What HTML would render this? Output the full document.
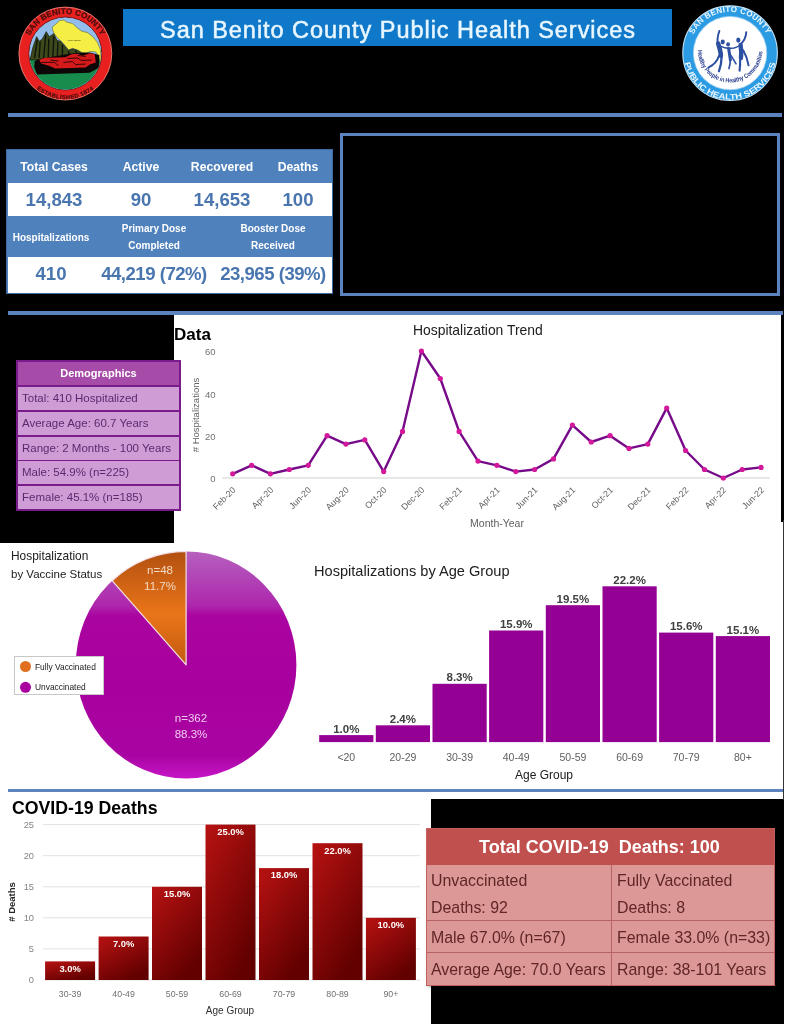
<!DOCTYPE html>
<html lang="en"><head><meta charset="utf-8"><title>San Benito County Public Health Services</title>
<style>
html,body{margin:0;padding:0;}
body{width:791px;height:1024px;position:relative;overflow:hidden;background:#fff;font-family:"Liberation Sans",sans-serif;}
.abs{position:absolute;}
.blk{position:absolute;background:#000;}
.bl{position:absolute;background:#5b83bd;}
.t{position:absolute;white-space:nowrap;line-height:1;}
svg{position:absolute;left:0;top:0;}
svg text{font-family:"Liberation Sans",sans-serif;}
.st{position:absolute;left:6px;top:149px;width:327px;height:145px;background:#4f81bd;border:1px solid #3f6aa5;box-sizing:border-box;}
.st .w{position:absolute;left:1px;right:0;background:#fff;}
.st .h{position:absolute;color:#fff;font-weight:bold;text-align:center;white-space:nowrap;line-height:1;transform:translateX(-50%);}
.st .v{position:absolute;color:#4a76b0;font-weight:bold;text-align:center;white-space:nowrap;line-height:1;transform:translateX(-50%);}
.st .v2{position:absolute;color:#4a76b0;font-weight:bold;text-align:center;white-space:nowrap;line-height:1;transform:translateX(-50%);letter-spacing:-0.5px;}
.dm{position:absolute;left:16px;top:360px;width:165px;height:151px;background:#7a1b8b;}
.dm div{position:absolute;left:2px;width:161px;box-sizing:border-box;color:#5b2a6e;font-size:11.5px;line-height:1;white-space:nowrap;}
.dm .hd{background:#a64ca8;color:#fff;font-weight:bold;text-align:center;font-size:11px;}
.dm .r{background:#cf9cd6;padding-left:4px;}
.rt{position:absolute;left:427px;top:829px;width:347px;height:156px;background:#db9897;box-shadow:0 0 0 1px #c4605e, 1px 2px 3px rgba(0,0,0,0.35);}
.rt .hd{position:absolute;left:0;top:0;width:347px;height:36px;background:#c0504d;color:#fff;font-weight:bold;}
.rt .c{position:absolute;color:#602624;font-size:15.9px;white-space:nowrap;line-height:1;}
.rt .ln{position:absolute;background:#b86462;}
</style></head><body>

<div class="blk" style="left:0;top:0;width:784px;height:315px"></div>
<div class="blk" style="left:0;top:315px;width:174px;height:228px"></div>
<div class="blk" style="left:431px;top:799px;width:353px;height:225px"></div>
<div class="blk" style="left:781px;top:315px;width:3px;height:207px"></div>
<div class="abs" style="left:783px;top:520px;width:1px;height:280px;background:#333"></div>
<div class="bl" style="left:8px;top:113px;width:774px;height:4px"></div>
<div class="bl" style="left:8px;top:311px;width:775px;height:4px"></div>
<div class="bl" style="left:8px;top:789px;width:775px;height:3px"></div>
<div class="abs" style="left:123px;top:9px;width:549px;height:37px;background:#0f78c8"></div>
<div class="t" id="title" style="left:160px;top:18.5px;font-size:23.5px;color:#e8f6ff;letter-spacing:0.96px;-webkit-text-stroke:0.5px #e8f6ff">San Benito County Public Health Services</div>
<div class="abs" style="left:340px;top:133px;width:440px;height:163px;box-sizing:border-box;border:3px solid #5b83bd"></div>
<div class="st">
<div class="w" style="top:33px;height:33px"></div>
<div class="w" style="top:107px;height:36px"></div>
<div class="h" style="left:47px;top:11px;font-size:12.2px">Total Cases</div>
<div class="h" style="left:134px;top:11px;font-size:12.2px">Active</div>
<div class="h" style="left:215px;top:11px;font-size:12.2px">Recovered</div>
<div class="h" style="left:291px;top:11px;font-size:12.2px">Deaths</div>
<div class="v" style="left:47px;top:41px;font-size:18.6px">14,843</div>
<div class="v" style="left:134px;top:41px;font-size:18.6px">90</div>
<div class="v" style="left:215px;top:41px;font-size:18.6px">14,653</div>
<div class="v" style="left:291px;top:41px;font-size:18.6px">100</div>
<div class="h" style="left:44px;top:83px;font-size:10px">Hospitalizations</div>
<div class="h" style="left:147px;top:74px;font-size:10px">Primary Dose</div>
<div class="h" style="left:147px;top:91px;font-size:10px">Completed</div>
<div class="h" style="left:266px;top:74px;font-size:10px">Booster Dose</div>
<div class="h" style="left:266px;top:91px;font-size:10px">Received</div>
<div class="v" style="left:44px;top:115px;font-size:18.6px">410</div>
<div class="v2" style="left:147px;top:115px;font-size:18.6px">44,219 (72%)</div>
<div class="v2" style="left:266px;top:115px;font-size:18.6px">23,965 (39%)</div>
</div>
<div class="t" style="left:174px;top:325.5px;font-size:17px;font-weight:bold;color:#000">Data</div>
<div class="dm">
<div class="hd" style="top:2px;height:23px;padding-top:6px">Demographics</div>
<div class="r" style="top:27px;height:23px;padding-top:6px">Total: 410 Hospitalized</div>
<div class="r" style="top:51.5px;height:23px;padding-top:6px">Average Age: 60.7 Years</div>
<div class="r" style="top:76.5px;height:23px;padding-top:6px">Range: 2 Months - 100 Years</div>
<div class="r" style="top:101px;height:23px;padding-top:6px">Male: 54.9% (n=225)</div>
<div class="r" style="top:125.5px;height:23px;padding-top:6px">Female: 45.1% (n=185)</div>
</div>
<svg width="791" height="1024" viewBox="0 0 791 1024">
<defs>
<linearGradient id="gp" x1="0" y1="0" x2="0" y2="1"><stop offset="0" stop-color="#b660be"/><stop offset="0.12" stop-color="#b144b6"/><stop offset="0.24" stop-color="#ae26ac"/><stop offset="0.285" stop-color="#aa04a0"/><stop offset="0.6" stop-color="#a8009e"/><stop offset="0.9" stop-color="#a904a2"/><stop offset="1" stop-color="#c616c6"/></linearGradient>
<linearGradient id="go" x1="0" y1="0" x2="0" y2="1"><stop offset="0" stop-color="#b25010"/><stop offset="0.55" stop-color="#ea7519"/><stop offset="1" stop-color="#c25a10"/></linearGradient>
<linearGradient id="gr" x1="0" y1="0" x2="0.6" y2="1"><stop offset="0" stop-color="#b81212"/><stop offset="1" stop-color="#620000"/></linearGradient>
</defs>
<line x1="222" y1="478" x2="770" y2="478" stroke="#d0d0d0" stroke-width="1"/>
<polyline fill="none" stroke="#760a88" stroke-width="2.4" stroke-linejoin="round" points="232.7,473.8 251.6,465.3 270.4,473.8 289.3,469.5 308.2,465.3 327.1,435.7 345.9,444.1 364.8,439.9 383.7,471.6 402.5,431.4 421.4,351.0 440.3,378.5 459.1,431.4 478.0,461.1 496.9,465.3 515.8,471.6 534.6,469.5 553.5,458.9 572.4,425.1 591.2,442.0 610.1,435.7 629.0,448.4 647.8,444.1 666.7,408.1 685.6,450.5 704.5,469.5 723.3,478.0 742.2,469.5 761.1,467.4"/>
<circle cx="232.7" cy="473.8" r="2.6" fill="#d4189c"/>
<circle cx="251.6" cy="465.3" r="2.6" fill="#d4189c"/>
<circle cx="270.4" cy="473.8" r="2.6" fill="#d4189c"/>
<circle cx="289.3" cy="469.5" r="2.6" fill="#d4189c"/>
<circle cx="308.2" cy="465.3" r="2.6" fill="#d4189c"/>
<circle cx="327.1" cy="435.7" r="2.6" fill="#d4189c"/>
<circle cx="345.9" cy="444.1" r="2.6" fill="#d4189c"/>
<circle cx="364.8" cy="439.9" r="2.6" fill="#d4189c"/>
<circle cx="383.7" cy="471.6" r="2.6" fill="#d4189c"/>
<circle cx="402.5" cy="431.4" r="2.6" fill="#d4189c"/>
<circle cx="421.4" cy="351.0" r="2.6" fill="#d4189c"/>
<circle cx="440.3" cy="378.5" r="2.6" fill="#d4189c"/>
<circle cx="459.1" cy="431.4" r="2.6" fill="#d4189c"/>
<circle cx="478.0" cy="461.1" r="2.6" fill="#d4189c"/>
<circle cx="496.9" cy="465.3" r="2.6" fill="#d4189c"/>
<circle cx="515.8" cy="471.6" r="2.6" fill="#d4189c"/>
<circle cx="534.6" cy="469.5" r="2.6" fill="#d4189c"/>
<circle cx="553.5" cy="458.9" r="2.6" fill="#d4189c"/>
<circle cx="572.4" cy="425.1" r="2.6" fill="#d4189c"/>
<circle cx="591.2" cy="442.0" r="2.6" fill="#d4189c"/>
<circle cx="610.1" cy="435.7" r="2.6" fill="#d4189c"/>
<circle cx="629.0" cy="448.4" r="2.6" fill="#d4189c"/>
<circle cx="647.8" cy="444.1" r="2.6" fill="#d4189c"/>
<circle cx="666.7" cy="408.1" r="2.6" fill="#d4189c"/>
<circle cx="685.6" cy="450.5" r="2.6" fill="#d4189c"/>
<circle cx="704.5" cy="469.5" r="2.6" fill="#d4189c"/>
<circle cx="723.3" cy="478.0" r="2.6" fill="#d4189c"/>
<circle cx="742.2" cy="469.5" r="2.6" fill="#d4189c"/>
<circle cx="761.1" cy="467.4" r="2.6" fill="#d4189c"/>
<text x="215.5" y="354.5" font-size="9.5" fill="#707070" text-anchor="end">60</text>
<text x="215.5" y="397.5" font-size="9.5" fill="#707070" text-anchor="end">40</text>
<text x="215.5" y="439.5" font-size="9.5" fill="#707070" text-anchor="end">20</text>
<text x="215.5" y="481.5" font-size="9.5" fill="#707070" text-anchor="end">0</text>
<text transform="translate(236.2,490.5) rotate(-45)" font-size="8.8" fill="#606060" text-anchor="end">Feb-20</text>
<text transform="translate(273.9,490.5) rotate(-45)" font-size="8.8" fill="#606060" text-anchor="end">Apr-20</text>
<text transform="translate(311.7,490.5) rotate(-45)" font-size="8.8" fill="#606060" text-anchor="end">Jun-20</text>
<text transform="translate(349.4,490.5) rotate(-45)" font-size="8.8" fill="#606060" text-anchor="end">Aug-20</text>
<text transform="translate(387.2,490.5) rotate(-45)" font-size="8.8" fill="#606060" text-anchor="end">Oct-20</text>
<text transform="translate(424.9,490.5) rotate(-45)" font-size="8.8" fill="#606060" text-anchor="end">Dec-20</text>
<text transform="translate(462.6,490.5) rotate(-45)" font-size="8.8" fill="#606060" text-anchor="end">Feb-21</text>
<text transform="translate(500.4,490.5) rotate(-45)" font-size="8.8" fill="#606060" text-anchor="end">Apr-21</text>
<text transform="translate(538.1,490.5) rotate(-45)" font-size="8.8" fill="#606060" text-anchor="end">Jun-21</text>
<text transform="translate(575.9,490.5) rotate(-45)" font-size="8.8" fill="#606060" text-anchor="end">Aug-21</text>
<text transform="translate(613.6,490.5) rotate(-45)" font-size="8.8" fill="#606060" text-anchor="end">Oct-21</text>
<text transform="translate(651.3,490.5) rotate(-45)" font-size="8.8" fill="#606060" text-anchor="end">Dec-21</text>
<text transform="translate(689.1,490.5) rotate(-45)" font-size="8.8" fill="#606060" text-anchor="end">Feb-22</text>
<text transform="translate(726.8,490.5) rotate(-45)" font-size="8.8" fill="#606060" text-anchor="end">Apr-22</text>
<text transform="translate(764.6,490.5) rotate(-45)" font-size="8.8" fill="#606060" text-anchor="end">Jun-22</text>
<text x="497" y="527" font-size="10.5" fill="#606060" text-anchor="middle">Month-Year</text>
<text transform="translate(199,415) rotate(-90)" font-size="9.5" fill="#606060" text-anchor="middle"># Hospitalizations</text>
<text x="413" y="335" font-size="13.9" fill="#202020">Hospitalization Trend</text>
<ellipse cx="186.1" cy="664.9" rx="110.3" ry="113.5" fill="url(#gp)"/>
<path d="M186.1,664.9 L186.1,551.4 A110.3,113.5 0 0 0 112.1,580.7 Z" fill="url(#go)" stroke="#f4e0e8" stroke-width="1.2" stroke-linejoin="round"/>
<text x="160" y="574" font-size="11.5" fill="#f3d9c2" text-anchor="middle">n=48</text>
<text x="160" y="590" font-size="11.5" fill="#f3d9c2" text-anchor="middle">11.7%</text>
<text x="191" y="722" font-size="11.5" fill="#efc8ee" text-anchor="middle">n=362</text>
<text x="191" y="737.5" font-size="11.5" fill="#efc8ee" text-anchor="middle">88.3%</text>
<text x="11" y="560" font-size="11.9" fill="#202020">Hospitalization</text>
<text x="11" y="578" font-size="11.5" fill="#202020">by Vaccine Status</text>
<rect x="14.5" y="656.5" width="89" height="38" fill="#fff" stroke="#c8c8c8" stroke-width="1"/>
<circle cx="25.5" cy="666.5" r="5.5" fill="#e07020"/>
<circle cx="25.5" cy="687.3" r="5.5" fill="#a8009e"/>
<text x="35" y="669.5" font-size="8.4" fill="#202020">Fully Vaccinated</text>
<text x="35" y="690.3" font-size="8.4" fill="#202020">Unvaccinated</text>
<rect x="319.2" y="735.1" width="54.2" height="7.0" fill="#940093"/>
<text x="346.3" y="732.6" font-size="11.5" font-weight="bold" fill="#404040" text-anchor="middle">1.0%</text>
<text x="346.3" y="761" font-size="10.5" fill="#606060" text-anchor="middle">&lt;20</text>
<rect x="375.8" y="725.3" width="54.2" height="16.8" fill="#940093"/>
<text x="402.9" y="722.8" font-size="11.5" font-weight="bold" fill="#404040" text-anchor="middle">2.4%</text>
<text x="402.9" y="761" font-size="10.5" fill="#606060" text-anchor="middle">20-29</text>
<rect x="432.5" y="683.8" width="54.2" height="58.3" fill="#940093"/>
<text x="459.6" y="681.3" font-size="11.5" font-weight="bold" fill="#404040" text-anchor="middle">8.3%</text>
<text x="459.6" y="761" font-size="10.5" fill="#606060" text-anchor="middle">30-39</text>
<rect x="489.1" y="630.5" width="54.2" height="111.6" fill="#940093"/>
<text x="516.2" y="628.0" font-size="11.5" font-weight="bold" fill="#404040" text-anchor="middle">15.9%</text>
<text x="516.2" y="761" font-size="10.5" fill="#606060" text-anchor="middle">40-49</text>
<rect x="545.8" y="605.2" width="54.2" height="136.9" fill="#940093"/>
<text x="572.9" y="602.7" font-size="11.5" font-weight="bold" fill="#404040" text-anchor="middle">19.5%</text>
<text x="572.9" y="761" font-size="10.5" fill="#606060" text-anchor="middle">50-59</text>
<rect x="602.5" y="586.3" width="54.2" height="155.8" fill="#940093"/>
<text x="629.6" y="583.8" font-size="11.5" font-weight="bold" fill="#404040" text-anchor="middle">22.2%</text>
<text x="629.6" y="761" font-size="10.5" fill="#606060" text-anchor="middle">60-69</text>
<rect x="659.1" y="632.6" width="54.2" height="109.5" fill="#940093"/>
<text x="686.2" y="630.1" font-size="11.5" font-weight="bold" fill="#404040" text-anchor="middle">15.6%</text>
<text x="686.2" y="761" font-size="10.5" fill="#606060" text-anchor="middle">70-79</text>
<rect x="715.8" y="636.1" width="54.2" height="106.0" fill="#940093"/>
<text x="742.9" y="633.6" font-size="11.5" font-weight="bold" fill="#404040" text-anchor="middle">15.1%</text>
<text x="742.9" y="761" font-size="10.5" fill="#606060" text-anchor="middle">80+</text>
<text x="544" y="779" font-size="12" fill="#202020" text-anchor="middle">Age Group</text>
<text x="314" y="576" font-size="14.6" fill="#202020">Hospitalizations by Age Group</text>
<line x1="43" y1="980.0" x2="420" y2="980.0" stroke="#e2e2e2" stroke-width="1"/>
<text x="34" y="983.3" font-size="9.3" fill="#858585" text-anchor="end">0</text>
<line x1="43" y1="948.9" x2="420" y2="948.9" stroke="#e2e2e2" stroke-width="1"/>
<text x="34" y="952.2" font-size="9.3" fill="#858585" text-anchor="end">5</text>
<line x1="43" y1="917.8" x2="420" y2="917.8" stroke="#e2e2e2" stroke-width="1"/>
<text x="34" y="921.1" font-size="9.3" fill="#858585" text-anchor="end">10</text>
<line x1="43" y1="886.8" x2="420" y2="886.8" stroke="#e2e2e2" stroke-width="1"/>
<text x="34" y="890.1" font-size="9.3" fill="#858585" text-anchor="end">15</text>
<line x1="43" y1="855.7" x2="420" y2="855.7" stroke="#e2e2e2" stroke-width="1"/>
<text x="34" y="859.0" font-size="9.3" fill="#858585" text-anchor="end">20</text>
<line x1="43" y1="824.6" x2="420" y2="824.6" stroke="#e2e2e2" stroke-width="1"/>
<text x="34" y="827.9" font-size="9.3" fill="#858585" text-anchor="end">25</text>
<rect x="45.1" y="961.4" width="50" height="18.6" fill="url(#gr)"/>
<text x="70.1" y="971.7" font-size="9.4" font-weight="bold" fill="#fff" text-anchor="middle">3.0%</text>
<text x="70.1" y="996.7" font-size="8.8" fill="#707070" text-anchor="middle">30-39</text>
<rect x="98.6" y="936.5" width="50" height="43.5" fill="url(#gr)"/>
<text x="123.6" y="946.8" font-size="9.4" font-weight="bold" fill="#fff" text-anchor="middle">7.0%</text>
<text x="123.6" y="996.7" font-size="8.8" fill="#707070" text-anchor="middle">40-49</text>
<rect x="152.0" y="886.8" width="50" height="93.2" fill="url(#gr)"/>
<text x="177.0" y="897.1" font-size="9.4" font-weight="bold" fill="#fff" text-anchor="middle">15.0%</text>
<text x="177.0" y="996.7" font-size="8.8" fill="#707070" text-anchor="middle">50-59</text>
<rect x="205.5" y="824.6" width="50" height="155.4" fill="url(#gr)"/>
<text x="230.5" y="834.9" font-size="9.4" font-weight="bold" fill="#fff" text-anchor="middle">25.0%</text>
<text x="230.5" y="996.7" font-size="8.8" fill="#707070" text-anchor="middle">60-69</text>
<rect x="259.0" y="868.1" width="50" height="111.9" fill="url(#gr)"/>
<text x="284.0" y="878.4" font-size="9.4" font-weight="bold" fill="#fff" text-anchor="middle">18.0%</text>
<text x="284.0" y="996.7" font-size="8.8" fill="#707070" text-anchor="middle">70-79</text>
<rect x="312.5" y="843.2" width="50" height="136.8" fill="url(#gr)"/>
<text x="337.5" y="853.5" font-size="9.4" font-weight="bold" fill="#fff" text-anchor="middle">22.0%</text>
<text x="337.5" y="996.7" font-size="8.8" fill="#707070" text-anchor="middle">80-89</text>
<rect x="365.9" y="917.8" width="50" height="62.2" fill="url(#gr)"/>
<text x="390.9" y="928.1" font-size="9.4" font-weight="bold" fill="#fff" text-anchor="middle">10.0%</text>
<text x="390.9" y="996.7" font-size="8.8" fill="#707070" text-anchor="middle">90+</text>
<text x="230" y="1014" font-size="10" fill="#303030" text-anchor="middle">Age Group</text>
<text transform="translate(15,902) rotate(-90)" font-size="9.5" font-weight="bold" fill="#262626" text-anchor="middle"># Deaths</text>
<text x="12" y="814" font-size="17.7" font-weight="bold" fill="#000">COVID-19 Deaths</text>
</svg>
<div class="rt">
<div class="hd"><div class="t" style="left:52px;top:9px;font-size:18px;color:#fff">Total COVID-19&nbsp; Deaths: 100</div></div>
<div class="ln" style="left:0;top:91px;width:347px;height:1px"></div>
<div class="ln" style="left:0;top:123px;width:347px;height:1px"></div>
<div class="ln" style="left:184px;top:36px;width:1px;height:120px"></div>
<div class="c" style="left:4px;top:44px">Unvaccinated</div>
<div class="c" style="left:4px;top:71px">Deaths: 92</div>
<div class="c" style="left:190px;top:44px">Fully Vaccinated</div>
<div class="c" style="left:190px;top:71px">Deaths: 8</div>
<div class="c" style="left:4px;top:101px">Male 67.0% (n=67)</div>
<div class="c" style="left:190px;top:101px">Female 33.0% (n=33)</div>
<div class="c" style="left:4px;top:133px">Average Age: 70.0 Years</div>
<div class="c" style="left:190px;top:133px">Range: 38-101 Years</div>
</div>
<svg style="left:10px;top:0" width="110" height="110" viewBox="0 0 791 791">
<defs><clipPath id="lc"><circle cx="398" cy="385" r="258"/></clipPath>
<path id="ltop" d="M 112,385 A 286,286 0 0 1 684,385"/>
<path id="lbot" d="M 70,385 A 328,328 0 0 0 726,385"/></defs>
<circle cx="398" cy="385" r="334" fill="#e8201f" stroke="#f08a80" stroke-width="6"/>
<circle cx="398" cy="385" r="262" fill="#93bdea" stroke="#5a1010" stroke-width="6"/>
<g clip-path="url(#lc)"><g transform="translate(107.85,107.85) scale(0.7272)">
<rect x="0" y="0" width="800" height="800" fill="#93bdea"/>
<rect x="0" y="430" width="800" height="400" fill="#178c4c"/>
<polygon points="270,120 300,95 345,55 385,50 410,70 470,85 520,130 560,160 620,175 670,215 715,270 745,340 752,420 745,475 725,400 700,365 650,360 600,375 560,370 520,345 470,330 430,345 395,300 360,260 320,225 290,185 275,150" fill="#f5ee45" stroke="#5a5a20" stroke-width="5" stroke-linejoin="round"/>
<polygon points="50,445 75,330 115,215 140,260 170,240 210,165 240,215 285,185 315,250 350,260 395,310 430,350 470,335 520,350 560,375 610,380 700,395 560,420 400,425 150,440" fill="#3c4a1c" stroke="#151a0c" stroke-width="7" stroke-linejoin="round"/>
<path d="M120,250 L95,420 M150,270 L140,420 M205,200 L185,420 M235,240 L230,420 M285,215 L275,415 M325,270 L320,410 M370,300 L370,405 M430,360 L440,400 M500,355 L520,395" stroke="#10140a" stroke-width="14" fill="none" stroke-linecap="round"/>
<polygon points="95,455 140,435 460,380 640,370 735,395 735,520 640,572 120,588 92,520" fill="#0c0606"/>
<polygon points="140,442 200,422 400,417 460,388 520,382 570,402 640,378 690,388 700,470 640,490 600,520 300,530 230,500 160,480" fill="#d41a1a"/>
<path d="M160,470 L290,468 L330,500 M250,445 L330,455 M380,470 L470,460 L500,490 L600,485 M420,430 L520,425 L560,450 L660,445 M520,400 L600,410" stroke="#2a0505" stroke-width="9" fill="none" stroke-linejoin="round"/>
</g></g>
<text font-size="58" font-weight="bold" fill="#4a0e0e" stroke="#4a0e0e" stroke-width="2" letter-spacing="1"><textPath href="#ltop" startOffset="50%" text-anchor="middle">SAN BENITO COUNTY</textPath></text>
<text font-size="42" font-weight="bold" fill="#4a0e0e" stroke="#4a0e0e" stroke-width="1.5" letter-spacing="3"><textPath href="#lbot" startOffset="50%" text-anchor="middle">ESTABLISHED 1874</textPath></text>
<text x="462" y="292" font-size="15" font-weight="bold" fill="#4a4410" text-anchor="middle" letter-spacing="1">HOLLISTER</text>
</svg>
<svg style="left:675px;top:0" width="110" height="110" viewBox="0 0 791 791">
<defs><path id="rtop" d="M 100,382 A 296,296 0 0 1 692,382"/>
<path id="rbot" d="M 62,382 A 334,334 0 0 0 730,382"/>
<path id="rin" d="M 164,362 A 232,232 0 0 0 628,362"/></defs>
<circle cx="396" cy="382" r="340" fill="#2b9be3" stroke="#bfe2f8" stroke-width="8"/>
<circle cx="396" cy="382" r="264" fill="#fff" stroke="#9fd0f2" stroke-width="6"/>
<text font-size="58" font-weight="bold" fill="#eef8ff" letter-spacing="2"><textPath href="#rtop" startOffset="50%" text-anchor="middle">SAN BENITO COUNTY</textPath></text>
<text font-size="58" font-weight="bold" fill="#eef8ff"><textPath href="#rbot" startOffset="72" textLength="905" lengthAdjust="spacingAndGlyphs">PUBLIC HEALTH SERVICES</textPath></text>
<text font-size="46" fill="#2a3f8f" font-weight="bold"><textPath href="#rin" startOffset="0" textLength="722" lengthAdjust="spacingAndGlyphs">Healthy People in Healthy Communities</textPath></text>
<g transform="translate(179.75,143.8) scale(0.5455)" fill="none" stroke="#2c4fa2" stroke-linecap="round" stroke-linejoin="round">
<path d="M255,145 C235,200 225,260 235,320" stroke-width="26"/>
<path d="M240,310 C255,370 275,420 275,470" stroke-width="60"/>
<path d="M250,470 C230,540 180,590 115,625" stroke-width="26"/>
<path d="M285,480 C285,560 270,620 250,675" stroke-width="30"/>
<path d="M265,345 C320,372 380,382 450,368 C500,355 530,335 550,305" stroke-width="20"/>
<path d="M378,375 C385,430 395,480 400,525" stroke-width="40"/>
<path d="M400,525 C398,570 392,610 382,640" stroke-width="22"/>
<path d="M410,470 C435,510 455,545 475,578" stroke-width="20"/>
<path d="M610,162 C605,220 585,270 550,305" stroke-width="26"/>
<path d="M535,330 C545,390 548,450 540,500" stroke-width="58"/>
<path d="M530,500 C530,570 528,620 522,668" stroke-width="28"/>
<path d="M570,400 C610,470 630,540 640,598" stroke-width="26"/>
</g>
<g transform="translate(179.75,143.8) scale(0.5455)" fill="#2c4fa2"><ellipse cx="300" cy="290" rx="27" ry="32"/><ellipse cx="370" cy="322" rx="25" ry="28"/><ellipse cx="505" cy="265" rx="28" ry="34"/></g>
</svg>
</body></html>
